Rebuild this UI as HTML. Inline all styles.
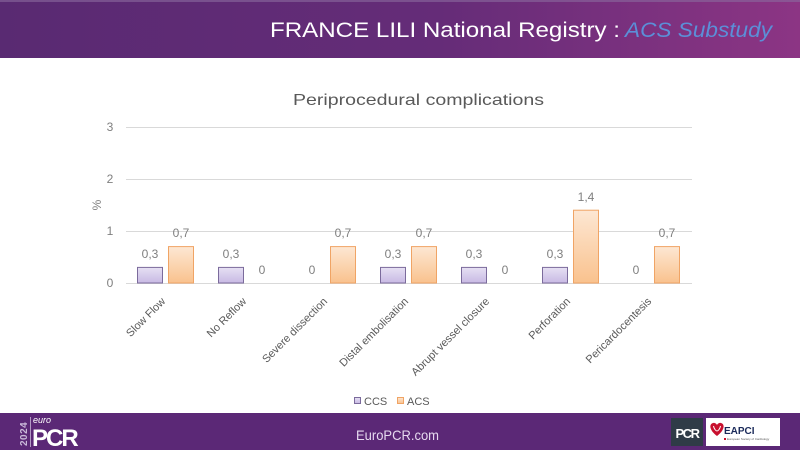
<!DOCTYPE html>
<html>
<head>
<meta charset="utf-8">
<style>
html,body{margin:0;padding:0;background:#fff;}
body{width:800px;height:450px;overflow:hidden;}
svg{display:block;font-family:"Liberation Sans",sans-serif;}
</style>
</head>
<body>
<svg width="800" height="450" viewBox="0 0 800 450" xmlns="http://www.w3.org/2000/svg">
<defs>
<linearGradient id="hdr" x1="0" y1="0" x2="1" y2="0">
<stop offset="0" stop-color="#592a72"/>
<stop offset="0.55" stop-color="#652c78"/>
<stop offset="1" stop-color="#8c3584"/>
</linearGradient>
<linearGradient id="ccs" x1="0" y1="0" x2="0" y2="1">
<stop offset="0" stop-color="#e6e0f3"/>
<stop offset="1" stop-color="#c8b9e4"/>
</linearGradient>
<linearGradient id="acs" x1="0" y1="0" x2="0" y2="1">
<stop offset="0" stop-color="#fde7d3"/>
<stop offset="1" stop-color="#f9c28e"/>
</linearGradient>
</defs>

<!-- header -->
<rect x="0" y="0" width="800" height="58" fill="url(#hdr)"/>
<rect x="0" y="0" width="800" height="2" fill="#8a6a9e" opacity="0.6"/>
<text x="270" y="37" font-size="21" fill="#ffffff" textLength="350" lengthAdjust="spacingAndGlyphs">FRANCE LILI National Registry :</text>
<text x="625" y="37" font-size="21" fill="#5b8fd8" font-style="italic" textLength="147" lengthAdjust="spacingAndGlyphs">ACS Substudy</text>

<!-- chart title -->
<text x="293" y="105" font-size="16" fill="#595959" textLength="251" lengthAdjust="spacingAndGlyphs">Periprocedural complications</text>

<!-- gridlines -->
<g stroke="#d9d9d9" stroke-width="1">
<line x1="126" y1="127.5" x2="692" y2="127.5"/>
<line x1="126" y1="179.5" x2="692" y2="179.5"/>
<line x1="126" y1="231.5" x2="692" y2="231.5"/>
<line x1="126" y1="283.5" x2="692" y2="283.5"/>
</g>

<!-- y ticks -->
<g font-size="12" fill="#7f7f7f" text-anchor="middle">
<text x="110" y="131">3</text>
<text x="110" y="183">2</text>
<text x="110" y="235">1</text>
<text x="110" y="287">0</text>
</g>
<text transform="translate(101,205) rotate(-90)" font-size="12" fill="#7f7f7f" text-anchor="middle">%</text>

<!-- bars -->
<g stroke-width="1">
<!-- cat 1 c=165.5 -->
<rect x="137.5" y="267.4" width="25" height="15.6" fill="url(#ccs)" stroke="#7b6b9c"/>
<rect x="168.5" y="246.6" width="25" height="36.4" fill="url(#acs)" stroke="#f0a465"/>
<!-- cat 2 c=246.5 -->
<rect x="218.5" y="267.4" width="25" height="15.6" fill="url(#ccs)" stroke="#7b6b9c"/>
<!-- cat 3 c=327.5 -->
<rect x="330.5" y="246.6" width="25" height="36.4" fill="url(#acs)" stroke="#f0a465"/>
<!-- cat 4 c=408.5 -->
<rect x="380.5" y="267.4" width="25" height="15.6" fill="url(#ccs)" stroke="#7b6b9c"/>
<rect x="411.5" y="246.6" width="25" height="36.4" fill="url(#acs)" stroke="#f0a465"/>
<!-- cat 5 c=489.5 -->
<rect x="461.5" y="267.4" width="25" height="15.6" fill="url(#ccs)" stroke="#7b6b9c"/>
<!-- cat 6 c=570.5 -->
<rect x="542.5" y="267.4" width="25" height="15.6" fill="url(#ccs)" stroke="#7b6b9c"/>
<rect x="573.5" y="210.2" width="25" height="72.8" fill="url(#acs)" stroke="#f0a465"/>
<!-- cat 7 c=651.5 -->
<rect x="654.5" y="246.6" width="25" height="36.4" fill="url(#acs)" stroke="#f0a465"/>
</g>

<!-- value labels -->
<g font-size="12" fill="#7f7f7f" text-anchor="middle">
<text x="150" y="258">0,3</text>
<text x="181" y="237">0,7</text>
<text x="231" y="258">0,3</text>
<text x="262" y="274">0</text>
<text x="312" y="274">0</text>
<text x="343" y="237">0,7</text>
<text x="393" y="258">0,3</text>
<text x="424" y="237">0,7</text>
<text x="474" y="258">0,3</text>
<text x="505" y="274">0</text>
<text x="555" y="258">0,3</text>
<text x="586" y="201">1,4</text>
<text x="636" y="274">0</text>
<text x="667" y="237">0,7</text>
</g>

<!-- category labels -->
<g font-size="11" fill="#595959" text-anchor="end">
<text transform="translate(166,302) rotate(-45)">Slow Flow</text>
<text transform="translate(247,302) rotate(-45)">No Reflow</text>
<text transform="translate(328,302) rotate(-45)">Severe dissection</text>
<text transform="translate(409,302) rotate(-45)">Distal embolisation</text>
<text transform="translate(490,302) rotate(-45)">Abrupt vessel closure</text>
<text transform="translate(571,302) rotate(-45)">Perforation</text>
<text transform="translate(652,302) rotate(-45)">Pericardocentesis</text>
</g>

<!-- legend -->
<rect x="354.5" y="397.5" width="6" height="6" fill="url(#ccs)" stroke="#7b6b9c"/>
<text x="364" y="405" font-size="11" fill="#595959">CCS</text>
<rect x="397.5" y="397.5" width="6" height="6" fill="url(#acs)" stroke="#f0a465"/>
<text x="407" y="405" font-size="11" fill="#595959">ACS</text>

<!-- footer -->
<rect x="0" y="413" width="800" height="37" fill="#5b2876"/>
<text transform="translate(27,446) rotate(-90)" font-size="10" font-weight="bold" fill="#c9b8d8" letter-spacing="0.5">2024</text>
<line x1="30.5" y1="417" x2="30.5" y2="447" stroke="#c9b8d8" stroke-width="0.8"/>
<text x="33" y="423" font-size="9" font-style="italic" fill="#ffffff">euro</text>
<text x="32" y="446" font-size="24" font-weight="bold" fill="#ffffff" letter-spacing="-2">PCR</text>
<text x="356" y="440" font-size="14" fill="#e6d9ef" textLength="83" lengthAdjust="spacingAndGlyphs">EuroPCR.com</text>

<rect x="671" y="418" width="32" height="28" fill="#2f3b47"/>
<text x="687" y="438" font-size="13" font-weight="bold" fill="#ffffff" text-anchor="middle" letter-spacing="-1.5">PCR</text>
<rect x="706" y="418" width="74" height="28" fill="#ffffff"/>
<path d="M717 436 C709 430 709 424 713 423 C715 422.5 716.5 424 717 425 C717.5 424 719 422.5 721 423 C725 424 725 430 717 436 Z" fill="#c8102e"/>
<path d="M713.5 426 C714 429 716 431 717 431 C718 431 720 429 720.5 426" fill="none" stroke="#ffffff" stroke-width="1"/>
<text x="724" y="434" font-size="10" font-weight="bold" fill="#1a2a5a">EAPCI</text>
<rect x="724" y="438" width="2" height="2" fill="#c8102e"/>
<text x="727" y="440" font-size="3" fill="#555">European Society of Cardiology</text>
</svg>
</body>
</html>
